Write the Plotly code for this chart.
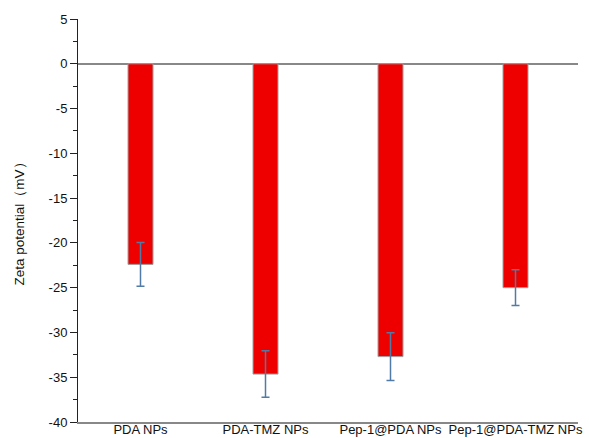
import plotly.graph_objects as go

categories = ["PDA NPs", "PDA-TMZ NPs", "Pep-1@PDA NPs", "Pep-1@PDA-TMZ NPs"]
zeta = [-22.4, -34.65, -32.7, -25.0]
err = [2.45, 2.6, 2.67, 2.0]
ytick_vals = [5, 0, -5, -10, -15, -20, -25, -30, -35, -40]
ytick_text = ["5", "0", "-5", "-10", "-15", "-20", "-25", "-30", "-35", "-40"]

fig = go.Figure()
fig.add_trace(go.Bar(
    x=categories, y=zeta, width=0.2,
    marker=dict(color="#ee0000", line=dict(color="#a0a0a0", width=1)),
    error_y=dict(type="data", array=err, visible=True, color="#4f7ba6",
                 thickness=1.5, width=4),
))

fig.update_layout(
    width=589, height=438,
    margin=dict(l=78, r=11, t=19, b=16),
    plot_bgcolor="white", paper_bgcolor="white",
    font=dict(family="Liberation Sans, Arial, sans-serif", size=13, color="#111"),
    showlegend=False,
    bargap=0.8,
)
fig.update_xaxes(
    showline=True, linecolor="#888", linewidth=1.5, ticks="", ticklen=0,
    ticklabelstandoff=-5,
    showgrid=False, tickfont=dict(size=13), automargin=False, range=[-0.5, 3.5],
)
fig.update_yaxes(
    range=[-40, 5], tickvals=ytick_vals, ticktext=ytick_text,
    showline=True, linecolor="#222", linewidth=1, ticks="outside", ticklen=7,
    tickcolor="#222", showgrid=False, zeroline=True, zerolinecolor="#888",
    zerolinewidth=2, automargin=False,
    minor=dict(tickvals=[2.5, -2.5, -7.5, -12.5, -17.5, -22.5, -27.5, -32.5, -37.5],
               ticks="outside", ticklen=4, tickcolor="#222"),
    title=dict(text="Zeta potential（mV）", standoff=20, font=dict(size=13.5)),
)

fig.write_html("out.html", config={"displayModeBar": False},
               post_script="document.body.style.margin='0';")
